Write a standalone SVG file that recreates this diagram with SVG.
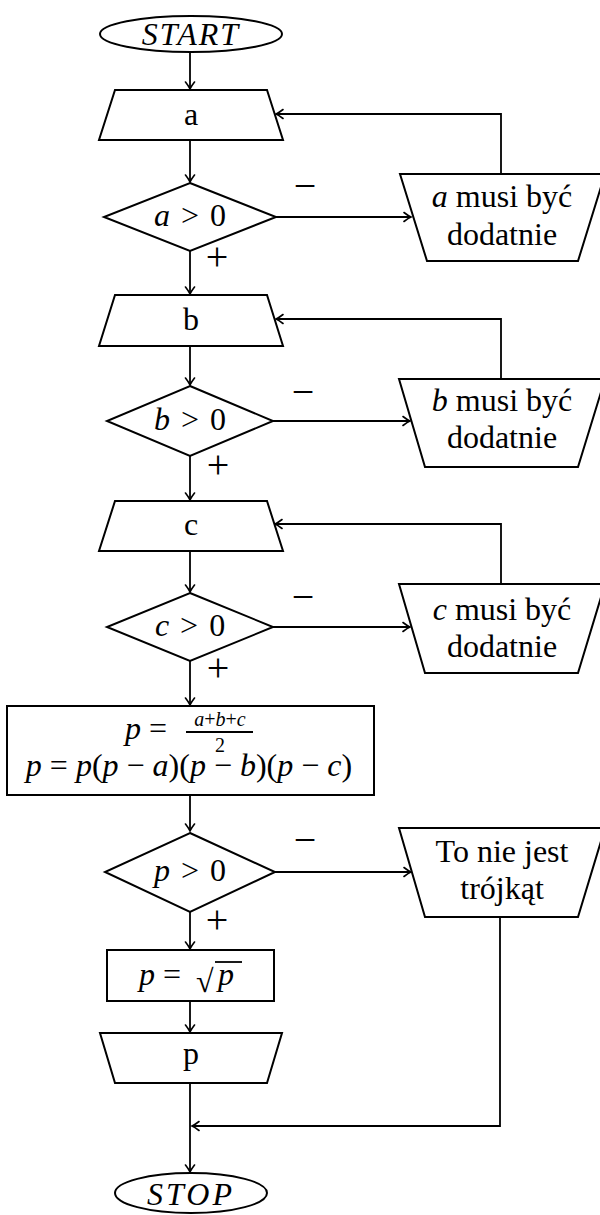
<svg xmlns="http://www.w3.org/2000/svg" width="600" height="1215" viewBox="0 0 600 1215">
<style>
  .n { fill: #fff; stroke: #000; stroke-width: 2; stroke-linejoin: miter; }
  .c { fill: none; stroke: #000; stroke-width: 1.8; }
  .t { font-family: "Liberation Serif", "Times New Roman", serif; font-size: 32px; fill: #000; text-anchor: middle; }
  .l { font-family: "Liberation Serif", "Times New Roman", serif; font-size: 40px; fill: #000; text-anchor: middle; }
  .s { font-family: "Liberation Serif", "Times New Roman", serif; font-size: 32px; fill: #000; }
  .i { font-style: italic; }
  .f { font-family: "Liberation Serif", "Times New Roman", serif; font-size: 20px; fill: #000; text-anchor: middle; }
</style>
<defs>
  <marker id="ar" viewBox="-9 -6 11 12" refX="0" refY="0" markerWidth="11" markerHeight="12" markerUnits="userSpaceOnUse" orient="auto">
    <path d="M -7 -4.5 Q -2.5 -1 0 0 Q -2.5 1 -7 4.5" fill="none" stroke="#000" stroke-width="1.6" stroke-linecap="round"/>
  </marker>
</defs>
<rect width="600" height="1215" fill="#fff"/>

<g id="connectors">
  <path class="c" d="M190 52 V89" marker-end="url(#ar)"/>
  <path class="c" d="M190 140 V182" marker-end="url(#ar)"/>
  <path class="c" d="M190 251 V294" marker-end="url(#ar)"/>
  <path class="c" d="M190 346 V385" marker-end="url(#ar)"/>
  <path class="c" d="M190 456 V500" marker-end="url(#ar)"/>
  <path class="c" d="M190 551 V592" marker-end="url(#ar)"/>
  <path class="c" d="M190 661 V705" marker-end="url(#ar)"/>
  <path class="c" d="M190 795 V831" marker-end="url(#ar)"/>
  <path class="c" d="M190 912 V949" marker-end="url(#ar)"/>
  <path class="c" d="M190 1001 V1032" marker-end="url(#ar)"/>
  <path class="c" d="M190 1083 V1172" marker-end="url(#ar)"/>

  <path class="c" d="M276 217 H411" marker-end="url(#ar)"/>
  <path class="c" d="M273 421 H410" marker-end="url(#ar)"/>
  <path class="c" d="M273 627 H410" marker-end="url(#ar)"/>
  <path class="c" d="M275 872 H411" marker-end="url(#ar)"/>

  <path class="c" d="M501 174 V114 H276" marker-end="url(#ar)"/>
  <path class="c" d="M501 379 V319 H276" marker-end="url(#ar)"/>
  <path class="c" d="M501 584 V524 H275" marker-end="url(#ar)"/>
  <path class="c" d="M500 917 V1126 H192" marker-end="url(#ar)"/>

  <text class="l" x="305" y="199">−</text>
  <text class="l" x="217" y="270">+</text>
  <text class="l" x="303" y="405">−</text>
  <text class="l" x="218" y="478">+</text>
  <text class="l" x="303" y="610">−</text>
  <text class="l" x="218" y="681">+</text>
  <text class="l" x="305" y="853">−</text>
  <text class="l" x="217" y="933">+</text>
</g>

<g id="start">
  <ellipse class="n" cx="191" cy="34" rx="91" ry="18"/>
  <text class="t i" x="191" y="45" letter-spacing="2">START</text>
</g>

<g id="input-a">
  <polygon class="n" points="115,90 267,90 283,140 99,140"/>
  <text class="t" x="191" y="125">a</text>
</g>
<g id="dec-a">
  <polygon class="n" points="190,183 276,217 190,251 104,217"/>
  <text class="t" x="190" y="226"><tspan class="i">a</tspan> <tspan dx="3">&gt;</tspan> <tspan dx="3">0</tspan></text>
</g>
<g id="err-a">
  <polygon class="n" points="400,174 605,174 578,261 427,261"/>
  <text class="t" x="502" y="207"><tspan class="i">a</tspan> musi być</text>
  <text class="t" x="502" y="245">dodatnie</text>
</g>

<g id="input-b">
  <polygon class="n" points="115,295 267,295 283,346 99,346"/>
  <text class="t" x="191" y="330">b</text>
</g>
<g id="dec-b">
  <polygon class="n" points="190,386 273,421 190,456 107,421"/>
  <text class="t" x="190" y="430"><tspan class="i">b</tspan> <tspan dx="3">&gt;</tspan> <tspan dx="3">0</tspan></text>
</g>
<g id="err-b">
  <polygon class="n" points="399,379 605,379 578,467 425,467"/>
  <text class="t" x="502" y="411"><tspan class="i">b</tspan> musi być</text>
  <text class="t" x="502" y="448">dodatnie</text>
</g>

<g id="input-c">
  <polygon class="n" points="115,501 267,501 283,551 99,551"/>
  <text class="t" x="191" y="535">c</text>
</g>
<g id="dec-c">
  <polygon class="n" points="190,593 273,627 190,661 107,627"/>
  <text class="t" x="190" y="636"><tspan class="i">c</tspan> <tspan dx="3">&gt;</tspan> <tspan dx="3">0</tspan></text>
</g>
<g id="err-c">
  <polygon class="n" points="399,584 605,584 578,673 425,673"/>
  <text class="t" x="502" y="620"><tspan class="i">c</tspan> musi być</text>
  <text class="t" x="502" y="657">dodatnie</text>
</g>

<g id="compute">
  <rect class="n" x="7" y="706" width="367" height="89"/>
  <text class="s" x="125" y="739"><tspan class="i">p</tspan> =</text>
  <text class="f" x="220" y="726"><tspan class="i">a</tspan>+<tspan class="i">b</tspan>+<tspan class="i">c</tspan></text>
  <line x1="186" y1="732" x2="253" y2="732" stroke="#000" stroke-width="2"/>
  <text class="f" x="220" y="752">2</text>
  <text class="t" x="189" y="776"><tspan class="i">p</tspan> = <tspan class="i">p</tspan>(<tspan class="i">p</tspan> − <tspan class="i">a</tspan>)(<tspan class="i">p</tspan> − <tspan class="i">b</tspan>)(<tspan class="i">p</tspan> − <tspan class="i">c</tspan>)</text>
</g>

<g id="dec-p">
  <polygon class="n" points="190,833 275,872 190,912 105,872"/>
  <text class="t" x="190" y="881"><tspan class="i">p</tspan> <tspan dx="3">&gt;</tspan> <tspan dx="3">0</tspan></text>
</g>
<g id="err-p">
  <polygon class="n" points="399,828 605,828 578,917 425,917"/>
  <text class="t" x="502" y="862">To nie jest</text>
  <text class="t" x="502" y="899">trójkąt</text>
</g>

<g id="sqrt">
  <rect class="n" x="107" y="950" width="167" height="51"/>
  <text class="s" x="139" y="985"><tspan class="i">p</tspan> =</text>
  <text class="s" x="196" y="992" font-size="40">√</text>
  <line x1="215" y1="962" x2="242" y2="962" stroke="#000" stroke-width="1.8"/>
  <text class="s i" x="218" y="985">p</text>
</g>

<g id="output-p">
  <polygon class="n" points="100,1033 282,1033 267,1083 115,1083"/>
  <text class="t" x="191" y="1064">p</text>
</g>

<g id="stop">
  <ellipse class="n" cx="191" cy="1193" rx="76" ry="20"/>
  <text class="t i" x="191" y="1205" letter-spacing="3">STOP</text>
</g>
</svg>
